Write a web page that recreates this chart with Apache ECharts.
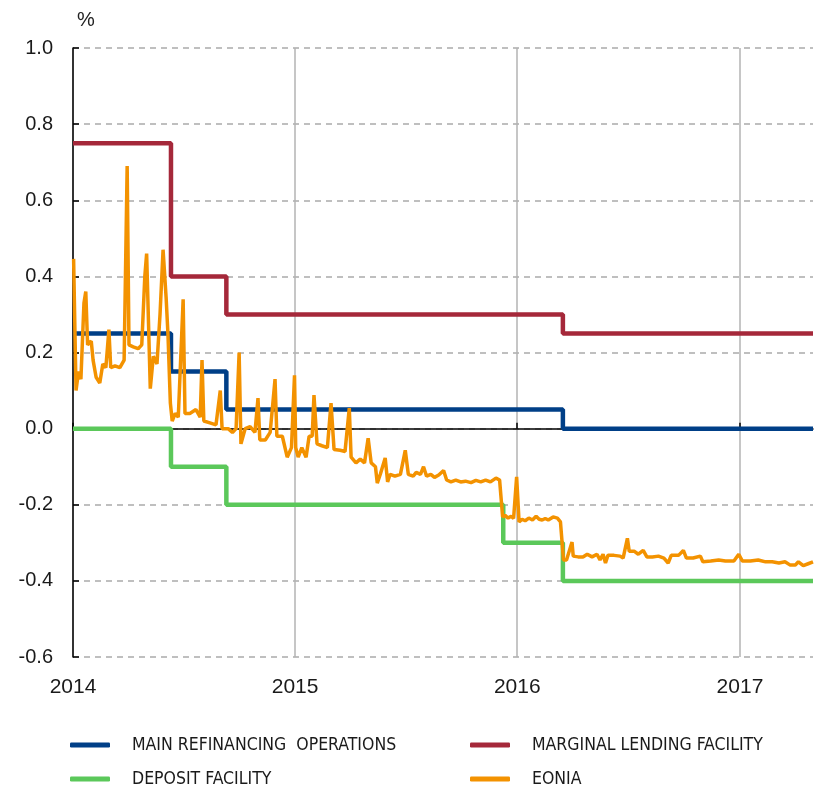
<!DOCTYPE html>
<html><head><meta charset="utf-8">
<script src="https://cdn.jsdelivr.net/npm/echarts@6/dist/echarts.min.js"></script>
<style>html,body{margin:0;padding:0;background:#fff}#c{width:814px;height:789px}</style>
</head><body><div id="c"></div>
<script>
// ---- data ----
const yearLabels = ['2014', '2015', '2016', '2017'];
const axisStart = '2014-01-01';
const axisEnd = '2017-05-01';

const mroDates = ['2014-01-01', '2014-06-11', '2014-09-10', '2016-03-16', '2017-05-01'];
const mroValues = [0.25, 0.15, 0.05, 0.00, 0.00];

const mlfDates = ['2014-01-01', '2014-06-11', '2014-09-10', '2016-03-16', '2017-05-01'];
const mlfValues = [0.75, 0.40, 0.30, 0.25, 0.25];

const dfDates = ['2014-01-01', '2014-06-11', '2014-09-10', '2015-12-09', '2016-03-16', '2017-05-01'];
const dfValues = [0.00, -0.10, -0.20, -0.30, -0.40, -0.40];

const eoniaDates = [
 '2014-01-02','2014-01-06','2014-01-10','2014-01-14','2014-01-19','2014-01-22','2014-01-25','2014-01-31','2014-02-03','2014-02-08',
 '2014-02-14','2014-02-19','2014-02-24','2014-03-01','2014-03-04','2014-03-11','2014-03-19','2014-03-26','2014-03-31','2014-04-03',
 '2014-04-10','2014-04-18','2014-04-24','2014-04-29','2014-05-02','2014-05-08','2014-05-13','2014-05-19','2014-05-24','2014-05-29',
 '2014-06-03','2014-06-06','2014-06-10','2014-06-13','2014-06-18','2014-06-23','2014-07-01','2014-07-04','2014-07-12','2014-07-22',
 '2014-07-29','2014-08-01','2014-08-04','2014-08-14','2014-08-24','2014-08-31','2014-09-03','2014-09-13','2014-09-20','2014-09-26',
 '2014-10-01','2014-10-04','2014-10-11','2014-10-19','2014-10-27','2014-11-01','2014-11-04','2014-11-13','2014-11-21','2014-11-29',
 '2014-12-02','2014-12-11','2014-12-19','2014-12-26','2014-12-31',
 '2015-01-02','2015-01-06','2015-01-12','2015-01-19','2015-01-24','2015-01-29','2015-02-01','2015-02-06','2015-02-14','2015-02-23',
 '2015-03-01','2015-03-06','2015-03-16','2015-03-24','2015-03-31','2015-04-03','2015-04-11','2015-04-18','2015-04-25','2015-05-01',
 '2015-05-06','2015-05-13','2015-05-16','2015-05-21','2015-05-29','2015-06-02','2015-06-06','2015-06-14','2015-06-23','2015-07-01',
 '2015-07-06','2015-07-09','2015-07-14','2015-07-19','2015-07-26','2015-07-31','2015-08-05','2015-08-12','2015-08-18','2015-08-25',
 '2015-09-02','2015-09-07','2015-09-14','2015-09-22','2015-09-30','2015-10-08','2015-10-17','2015-10-25','2015-11-02','2015-11-10',
 '2015-11-18','2015-11-27','2015-12-03','2015-12-08','2015-12-12','2015-12-17','2015-12-22','2015-12-26','2015-12-31',
 '2016-01-04','2016-01-09','2016-01-14','2016-01-20','2016-01-26','2016-02-01','2016-02-06','2016-02-11','2016-02-16','2016-02-21',
 '2016-02-29','2016-03-07','2016-03-12','2016-03-17','2016-03-22','2016-03-31','2016-04-02','2016-04-10','2016-04-18','2016-04-25',
 '2016-05-03','2016-05-11','2016-05-16','2016-05-21','2016-05-25','2016-05-29','2016-06-08','2016-06-18','2016-06-23','2016-06-30',
 '2016-07-03','2016-07-11','2016-07-18','2016-07-26','2016-08-01','2016-08-10','2016-08-20','2016-08-29','2016-09-05','2016-09-10',
 '2016-09-22','2016-09-30','2016-10-05','2016-10-16','2016-10-28','2016-11-01','2016-11-14','2016-11-27','2016-12-08','2016-12-22',
 '2016-12-30',
 '2017-01-05','2017-01-18','2017-01-31','2017-02-12','2017-02-23','2017-03-06','2017-03-16','2017-03-24','2017-04-02','2017-04-07',
 '2017-04-15','2017-04-23','2017-05-01'
];
const eoniaValues = [
 0.446, 0.10, 0.15, 0.13, 0.33, 0.36, 0.22, 0.23, 0.18, 0.135,
 0.12, 0.17, 0.16, 0.26, 0.16, 0.165, 0.16, 0.18, 0.69, 0.22,
 0.215, 0.21, 0.22, 0.40, 0.46, 0.105, 0.19, 0.17, 0.30, 0.47,
 0.345, 0.25, 0.067, 0.02, 0.04, 0.03, 0.34, 0.04, 0.04, 0.05,
 0.03, 0.18, 0.02, 0.015, 0.01, 0.10, 0.00, 0.00, -0.01, 0.00,
 0.20, -0.04, 0.00, 0.005, -0.01, 0.08, -0.03, -0.03, -0.01, 0.13,
 -0.02, -0.02, -0.075, -0.05, 0.14,
 -0.05, -0.075, -0.05, -0.075, -0.02, -0.02, 0.088, -0.04, -0.045, -0.05,
 0.067, -0.055, -0.057, -0.06, 0.054, -0.075, -0.09, -0.08, -0.09, -0.025,
 -0.09, -0.10, -0.143, -0.12, -0.077, -0.14, -0.12, -0.125, -0.12, -0.057,
 -0.12, -0.115, -0.125, -0.115, -0.12, -0.10, -0.125, -0.12, -0.128, -0.122,
 -0.11, -0.135, -0.14, -0.135, -0.14, -0.138, -0.142, -0.136, -0.14, -0.135,
 -0.14, -0.13, -0.135, -0.232, -0.228, -0.235, -0.23, -0.236, -0.127,
 -0.245, -0.238, -0.242, -0.235, -0.24, -0.23, -0.238, -0.24, -0.236, -0.24,
 -0.232, -0.235, -0.245, -0.345, -0.345, -0.298, -0.335, -0.337, -0.337, -0.33,
 -0.337, -0.33, -0.345, -0.33, -0.353, -0.333, -0.333, -0.335, -0.34, -0.288,
 -0.322, -0.322, -0.33, -0.32, -0.337, -0.337, -0.335, -0.34, -0.353, -0.333,
 -0.333, -0.32, -0.34, -0.34, -0.335, -0.35, -0.348, -0.345, -0.348, -0.348,
 -0.33,
 -0.348, -0.348, -0.345, -0.35, -0.35, -0.353, -0.35, -0.358, -0.358, -0.35,
 -0.36, -0.355, -0.35
];

const seriesNames = ['MAIN REFINANCING  OPERATIONS', 'MARGINAL LENDING FACILITY', 'DEPOSIT FACILITY', 'EONIA'];

// ---- build ----
const ts = s => { const p = s.split('-').map(Number); return Date.UTC(p[0], p[1] - 1, p[2]); };
const zip = (d, v) => d.map((x, i) => [ts(x), v[i]]);
const yearTicks = yearLabels.map(y => ts(y + '-01-01'));
const txtFont = "'Liberation Sans', Arial, sans-serif";
const legFont = "'DejaVu Sans Condensed', sans-serif";
const colors = ['#003f87', '#a5283a', '#5bc85a', '#f39200'];

const chart = echarts.init(document.getElementById('c'), null, {renderer: 'canvas'});
function leg(name, left, top) {
  return {
    data: [name], left: left, top: top, padding: 0, itemWidth: 40, itemHeight: 5, itemGap: 0,
    icon: 'roundRect', selectedMode: false,
    textStyle: {fontFamily: legFont, fontSize: 17.5, color: '#1a1a1a', padding: [0, 0, 0, 17]}
  };
}
chart.setOption({
  animation: false,
  color: colors,
  grid: {left: 73, right: 1, top: 48, bottom: 132, containLabel: false},
  legend: [
    leg(seriesNames[0], 70, 736),
    leg(seriesNames[1], 470, 736),
    leg(seriesNames[2], 70, 770),
    leg(seriesNames[3], 470, 770)
  ],
  graphic: [{type: 'text', left: 77, top: 10, style: {text: '%', font: "20px 'Liberation Sans', Arial, sans-serif", fill: '#222'}}],
  xAxis: [
    {
      type: 'value', min: ts(axisStart), max: ts(axisEnd), position: 'bottom',
      axisLine: {show: true, onZero: true, lineStyle: {color: '#000', width: 1.5}},
      axisTick: {show: true, inside: true, length: 6, customValues: yearTicks, lineStyle: {color: '#000', width: 1.5}},
      axisLabel: {show: false},
      splitLine: {show: false}
    },
    {
      type: 'value', min: ts(axisStart), max: ts(axisEnd), position: 'bottom',
      axisLine: {show: false, onZero: false},
      axisTick: {show: false, customValues: yearTicks},
      axisLabel: {show: true, customValues: yearTicks, margin: 20, fontSize: 21, color: '#1a1a1a', fontFamily: txtFont,
        formatter: v => String(new Date(v).getUTCFullYear())},
      splitLine: {show: true, lineStyle: {color: '#b3b3b3', width: 1.5, type: 'solid'}}
    }
  ],
  yAxis: {
    type: 'value', min: -0.6, max: 1.0, interval: 0.2,
    axisLine: {show: true, lineStyle: {color: '#000', width: 1.5}},
    axisTick: {show: true, inside: true, length: 6, lineStyle: {color: '#000', width: 1.5}},
    axisLabel: {margin: 20, fontSize: 20, color: '#1a1a1a', fontFamily: txtFont, formatter: v => v.toFixed(1)},
    splitLine: {show: true, lineStyle: {color: '#aaaaaa', width: 1.5, type: [6, 5]}}
  },
  series: [
    {name: seriesNames[0], type: 'line', step: 'end', showSymbol: false, data: zip(mroDates, mroValues), lineStyle: {width: 4.5}, z: 2},
    {name: seriesNames[1], type: 'line', step: 'end', showSymbol: false, data: zip(mlfDates, mlfValues), lineStyle: {width: 4.5}, z: 2},
    {name: seriesNames[2], type: 'line', step: 'end', showSymbol: false, data: zip(dfDates, dfValues), lineStyle: {width: 4.5}, z: 2},
    {name: seriesNames[3], type: 'line', showSymbol: false, data: zip(eoniaDates, eoniaValues), lineStyle: {width: 3.5}, z: 3}
  ]
});
</script></body></html>
